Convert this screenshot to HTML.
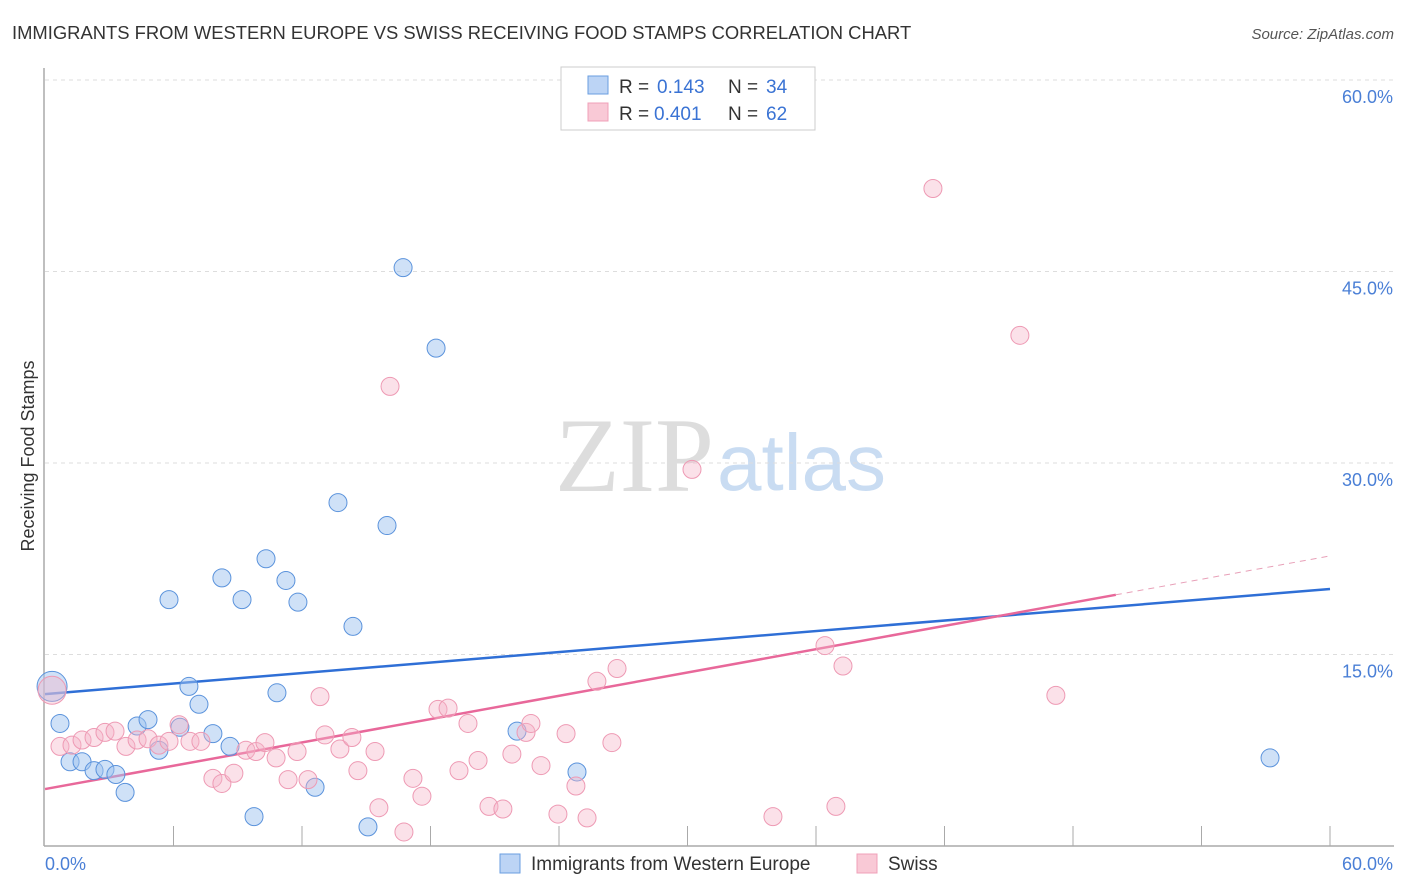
<!DOCTYPE html>
<html><head><meta charset="utf-8"><style>
body{margin:0;background:#fff;font-family:"Liberation Sans",sans-serif;}
</style></head><body>
<svg width="1406" height="892" style="display:block">
<text x="12" y="39" font-size="18.4" fill="#333">IMMIGRANTS FROM WESTERN EUROPE VS SWISS RECEIVING FOOD STAMPS CORRELATION CHART</text>
<text x="1394" y="39" font-size="15" fill="#555" font-style="italic" text-anchor="end">Source: ZipAtlas.com</text>
<text x="714" y="491" font-size="106" fill="#ddd" font-family="Liberation Serif,serif" text-anchor="end">ZIP</text>
<text x="717" y="490" font-size="80" fill="#c9dcf2">atlas</text>
<g id="grid"></g>
<g id="axes"></g>
<g id="trend"></g>
<g id="pts"></g>
<text x="34" y="456" font-size="18" fill="#333" text-anchor="middle" transform="rotate(-90 34 456)">Receiving Food Stamps</text>
<text x="45" y="870" font-size="18" fill="#4a7fd6">0.0%</text>
<text x="1393" y="870" font-size="18" fill="#4a7fd6" text-anchor="end">60.0%</text>
<g>
<rect x="561" y="67" width="254" height="63" fill="#fff" stroke="#ccc"/>
<rect x="588" y="76" width="20" height="18" fill="#bcd4f5" stroke="#6a9ee0"/>
<text x="619" y="93" font-size="19" fill="#333">R =</text>
<text x="657" y="93" font-size="19" fill="#3a73d4">0.143</text>
<text x="728" y="93" font-size="19" fill="#333">N =</text>
<text x="766" y="93" font-size="19" fill="#3a73d4">34</text>
<rect x="588" y="103" width="20" height="18" fill="#f9c9d6" stroke="#f0a0b8"/>
<text x="619" y="120" font-size="19" fill="#333">R =</text>
<text x="654" y="120" font-size="19" fill="#3a73d4">0.401</text>
<text x="728" y="120" font-size="19" fill="#333">N =</text>
<text x="766" y="120" font-size="19" fill="#3a73d4">62</text>
</g>
<g>
<rect x="500" y="854" width="20" height="19" fill="#bcd4f5" stroke="#6a9ee0"/>
<text x="531" y="870" font-size="19" fill="#333">Immigrants from Western Europe</text>
<rect x="857" y="854" width="20" height="19" fill="#f9c9d6" stroke="#f0a0b8"/>
<text x="888" y="870" font-size="19" fill="#333">Swiss</text>
</g>
</svg>
<script>
const yTicks=[15,30,45,60];
const yTickLabels=["15.0%","30.0%","45.0%","60.0%"];
const blueX=[0.33,0.70,1.17,1.73,2.29,2.80,3.31,3.74,4.30,4.81,5.32,5.79,6.30,6.72,7.19,7.84,8.26,8.64,9.20,9.76,10.32,10.83,11.25,11.81,12.61,13.68,14.38,15.08,15.97,16.72,18.26,22.04,24.84,57.20];
const blueY=[12.5,9.6,6.6,6.6,5.9,6.0,5.6,4.2,9.4,9.9,7.5,19.3,9.3,12.5,11.1,8.8,21.0,7.8,19.3,2.3,22.5,12.0,20.8,19.1,4.6,26.9,17.2,1.5,25.1,45.3,39.0,9.0,5.8,6.9];
const pinkX=[0.33,0.70,1.26,1.73,2.29,2.80,3.27,3.78,4.30,4.81,5.32,5.79,6.26,6.77,7.28,7.84,8.26,8.82,9.38,9.85,10.27,10.79,11.35,11.77,12.28,12.84,13.07,13.77,14.33,14.61,15.41,16.11,15.59,16.76,17.18,17.60,18.35,18.82,19.33,19.75,20.22,20.73,21.38,21.80,22.46,22.69,23.16,24.33,23.95,24.79,25.31,25.77,26.47,26.71,30.21,33.99,36.42,36.93,37.26,41.46,45.52,47.20];
const pinkY=[12.2,7.8,7.9,8.3,8.5,8.9,9.0,7.8,8.3,8.4,7.9,8.2,9.5,8.2,8.2,5.3,4.9,5.7,7.5,7.4,8.1,6.9,5.2,7.4,5.2,11.7,8.7,7.6,8.5,5.9,7.4,36.0,3.0,1.1,5.3,3.9,10.7,10.8,5.9,9.6,6.7,3.1,2.9,7.2,8.9,9.6,6.3,8.8,2.5,4.7,2.2,12.9,8.1,13.9,29.5,2.3,15.7,3.1,14.1,51.5,40.0,11.8];
const blueTrend=[11.9,20.13];
const pinkTrend=[4.46,22.72];
const pinkSolidEnd=50;
const X0=45,X1=1330,Y0=846,Y1=80;
const sx=v=>X0+(X1-X0)*v/60, sy=v=>Y0-(Y0-Y1)*v/60;
const NS="http://www.w3.org/2000/svg";
function mk(t,a,p){const e=document.createElementNS(NS,t);for(const k in a)e.setAttribute(k,a[k]);p.appendChild(e);return e;}
const grid=document.getElementById('grid');
yTicks.forEach((t,i)=>{
 const l=mk('line',{x1:X0,x2:1394,y1:sy(t),y2:sy(t),stroke:'#ddd','stroke-dasharray':'4 4'},grid);
 
 
 const tx=mk('text',{x:1393,y:sy(t)+23,'font-size':18,fill:'#4a7fd6','text-anchor':'end'},grid);
 tx.textContent=yTickLabels[i];
 
 
});
const ax=document.getElementById('axes');
const ya=mk('line',{x1:44,x2:44,y1:68,y2:Y0,stroke:'#aaa','stroke-width':1.5},ax);


const xa=mk('line',{x1:44,x2:1394,y1:Y0,y2:Y0,stroke:'#aaa','stroke-width':1.5},ax);


for(let k=1;k<=10;k++){const t=mk('line',{x1:sx(k*6),x2:sx(k*6),y1:Y0,y2:826,stroke:'#aaa'},ax);
 
 }
const tr=document.getElementById('trend');
const bl=mk('line',{x1:sx(0),y1:sy(blueTrend[0]),x2:sx(60),y2:sy(blueTrend[1]),stroke:'#2f6fd6','stroke-width':2.5},tr);


const pe=pinkTrend[0]+(pinkTrend[1]-pinkTrend[0])*pinkSolidEnd/60;
const pl=mk('line',{x1:sx(0),y1:sy(pinkTrend[0]),x2:sx(pinkSolidEnd),y2:sy(pe),stroke:'#e8689a','stroke-width':2.5},tr);


const pd=mk('line',{x1:sx(pinkSolidEnd),y1:sy(pe),x2:sx(60),y2:sy(pinkTrend[1]),stroke:'#e8a0b8','stroke-width':1,'stroke-dasharray':'6 5'},tr);


const pts=document.getElementById('pts');
blueX.forEach((x,i)=>{const c=mk('circle',{cx:sx(x),cy:sy(blueY[i]),r:i==0?15:9,fill:'rgba(160,195,240,0.5)',stroke:'#5b93dc','stroke-width':1},pts);
 
 });
pinkX.forEach((x,i)=>{const c=mk('circle',{cx:sx(x),cy:sy(pinkY[i]),r:i==0?14:9,fill:'rgba(245,180,200,0.4)',stroke:'#ee9ab4','stroke-width':1},pts);
 
 });
</script>
</body></html>
